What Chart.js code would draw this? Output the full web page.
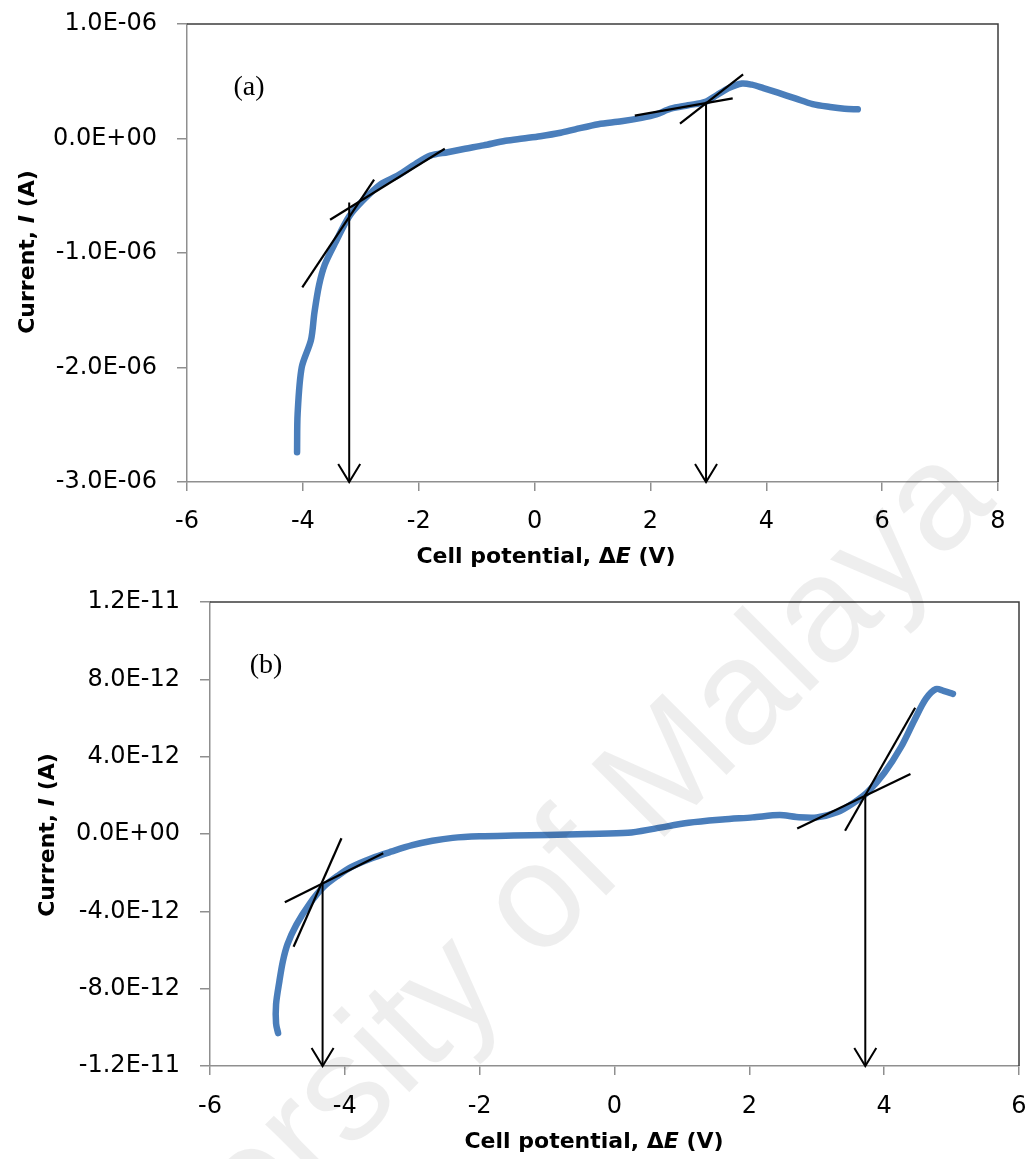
<!DOCTYPE html>
<html>
<head>
<meta charset="utf-8">
<title>Cell potential vs current</title>
<script src="https://cdn.jsdelivr.net/npm/chart.js@4.4.1/dist/chart.umd.min.js"></script>
<style>
  body { margin: 0; background: #fff; }
  #wrap { position: relative; width: 1027px; height: 1159px; }
  #chartA { position: absolute; left: 0; top: 0; }
  #chartB { position: absolute; left: 0; top: 580px; }
  #mark { position: absolute; left: 0; top: 0; pointer-events: none; }
</style>
</head>
<body>
<div id="wrap">
  <canvas id="chartA" width="1027" height="580"></canvas>
  <canvas id="chartB" width="1027" height="579"></canvas>
  <canvas id="mark" width="1027" height="1159"></canvas>
</div>
<script>
// (a) current (A) against cell potential (V)
const potentialA = [-4.10, -4.09, -4.02, -3.86, -3.80, -3.72, -3.62, -3.45, -3.20, -2.96, -2.66,
  -2.35, -2.05, -1.80, -1.50, -1.20, -0.88, -0.50, -0.20, 0.10, 0.45, 0.70, 1.10, 1.50, 1.85,
  2.10, 2.35, 2.65, 2.95, 3.15, 3.35, 3.58, 3.75, 3.95, 4.20, 4.50, 4.80, 5.10, 5.35, 5.58];
const currentA = [-2.74e-6, -2.40e-6, -2.00e-6, -1.76e-6, -1.52e-6, -1.28e-6, -1.10e-6, -0.92e-6,
  -0.68e-6, -0.54e-6, -0.40e-6, -0.32e-6, -0.22e-6, -0.15e-6, -0.12e-6, -0.09e-6, -0.06e-6,
  -0.02e-6, 0.00, 0.02e-6, 0.05e-6, 0.08e-6, 0.125e-6, 0.15e-6, 0.18e-6, 0.21e-6, 0.26e-6,
  0.29e-6, 0.32e-6, 0.38e-6, 0.44e-6, 0.48e-6, 0.47e-6, 0.44e-6, 0.40e-6, 0.35e-6, 0.30e-6,
  0.275e-6, 0.26e-6, 0.255e-6];
// tangent segments [x0, y0, x1, y1]
const tangentsA = [
  [-4.01, -1.30e-6, -2.77, -0.36e-6],
  [-3.53, -0.71e-6, -1.55, -0.09e-6],
  [1.73, 0.20e-6, 3.42, 0.35e-6],
  [2.51, 0.13e-6, 3.60, 0.56e-6]
];
const arrowXA = [-3.20, 2.96];
const arrowFromA = [-0.56e-6, 0.32e-6];
const xTicksA = [-6, -4, -2, 0, 2, 4, 6, 8];
const yTicksA = [-3e-6, -2e-6, -1e-6, 0, 1e-6];

// (b)
const potentialB = [-4.99, -5.02, -5.02, -4.97, -4.92, -4.85, -4.72, -4.52, -4.32, -4.10, -3.90,
  -3.60, -3.30, -3.00, -2.70, -2.40, -2.00, -1.50, -1.00, -0.40, 0.20, 0.60, 1.10, 1.60, 2.05,
  2.45, 2.70, 3.00, 3.30, 3.55, 3.75, 4.00, 4.25, 4.45, 4.62, 4.77, 4.88, 5.02];
const currentB = [-10.3e-12, -9.8e-12, -8.8e-12, -7.6e-12, -6.6e-12, -5.7e-12, -4.7e-12, -3.6e-12,
  -2.75e-12, -2.15e-12, -1.7e-12, -1.25e-12, -0.9e-12, -0.58e-12, -0.35e-12, -0.2e-12,
  -0.12e-12, -0.08e-12, -0.05e-12, 0.0, 0.06e-12, 0.28e-12, 0.58e-12, 0.75e-12, 0.86e-12,
  0.98e-12, 0.88e-12, 0.86e-12, 1.12e-12, 1.62e-12, 2.15e-12, 3.15e-12, 4.5e-12, 5.9e-12,
  7.0e-12, 7.5e-12, 7.4e-12, 7.25e-12];
const tangentsB = [
  [-4.89, -3.53e-12, -3.43, -1.0e-12],
  [-4.76, -5.83e-12, -4.05, -0.22e-12],
  [2.71, 0.29e-12, 4.39, 3.1e-12],
  [3.42, 0.17e-12, 4.46, 6.53e-12]
];
const arrowXB = [-4.33, 3.72];
const arrowFromB = [-2.52e-12, 2.05e-12];
const xTicksB = [-6, -4, -2, 0, 2, 4, 6];
const yTicksB = [-1.2e-11, -8e-12, -4e-12, 0, 4e-12, 8e-12, 1.2e-11];

const titleFont = 'bold 22px "DejaVu Sans"';
const titleItalic = 'italic bold 22px "DejaVu Sans"';
const xTitleParts = [
  { text: 'Cell potential, Δ', font: titleFont },
  { text: 'E', font: titleItalic },
  { text: ' (V)', font: titleFont }
];
const yTitleParts = [
  { text: 'Current, ', font: titleFont },
  { text: 'I', font: titleItalic },
  { text: ' (A)', font: titleFont }
];

// Excel style exponent labels, e.g. -1.0E-06
function sci(v) {
  const [m, e] = v.toExponential(1).split('e');
  const sign = e[0] === '-' ? '-' : '+';
  return m + 'E' + sign + e.replace(/^[+-]/, '').padStart(2, '0');
}

function drawRich(ctx, parts, cx, cy, rot) {
  ctx.save();
  ctx.translate(cx, cy);
  ctx.rotate(rot);
  let total = 0;
  parts.forEach(p => { ctx.font = p.font; total += ctx.measureText(p.text).width; });
  let x = -total / 2;
  ctx.fillStyle = '#000';
  ctx.textAlign = 'left';
  ctx.textBaseline = 'middle';
  parts.forEach(p => {
    ctx.font = p.font;
    ctx.fillText(p.text, x, 0);
    x += ctx.measureText(p.text).width;
  });
  ctx.restore();
}

// frame, arrows, panel tag and axis titles
const decor = {
  id: 'decor',
  afterDraw(chart, args, opts) {
    const { ctx, chartArea: a, scales: { x, y } } = chart;
    ctx.save();
    ctx.strokeStyle = '#3c3c3c';
    ctx.lineWidth = 1.5;
    ctx.beginPath();
    ctx.moveTo(a.left, a.top);
    ctx.lineTo(a.right, a.top);
    ctx.lineTo(a.right, a.bottom);
    ctx.stroke();

    ctx.strokeStyle = '#000';
    ctx.lineWidth = 2;
    opts.arrowX.forEach((xv, i) => {
      const px = x.getPixelForValue(xv);
      const top = y.getPixelForValue(opts.arrowFrom[i]);
      const tip = a.bottom;
      ctx.beginPath();
      ctx.moveTo(px, top);
      ctx.lineTo(px, tip);
      ctx.stroke();
      ctx.beginPath();
      ctx.moveTo(px - 11, tip - 18);
      ctx.lineTo(px, tip);
      ctx.lineTo(px + 11, tip - 18);
      ctx.stroke();
    });

    ctx.fillStyle = '#000';
    ctx.font = '28px "Liberation Serif"';
    ctx.textAlign = 'center';
    ctx.textBaseline = 'middle';
    ctx.fillText(opts.tag, opts.tagPos[0], opts.tagPos[1]);

    drawRich(ctx, xTitleParts, opts.xTitlePos[0], opts.xTitlePos[1], 0);
    drawRich(ctx, yTitleParts, opts.yTitlePos[0], opts.yTitlePos[1], -Math.PI / 2);
    ctx.restore();
  }
};

// fixed axis boxes; label overhang is covered by layout padding instead
function noOverhang(s) {
  s.paddingTop = 0;
  s.paddingBottom = 0;
  s.paddingLeft = 0;
  s.paddingRight = 0;
}

function makeChart(id, xs, ys, tangents, xTicks, yTicks, box, decorOpts) {
  const sets = tangents.map(s => ({
    data: [{ x: s[0], y: s[1] }, { x: s[2], y: s[3] }],
    borderColor: '#000',
    borderWidth: 2.2,
    order: 1
  }));
  sets.push({
    data: xs.map((v, i) => ({ x: v, y: ys[i] })),
    borderColor: '#4a7ebb',
    borderWidth: 6.5,
    borderCapStyle: 'round',
    borderJoinStyle: 'round',
    tension: 0.3,
    order: 2
  });
  const axisGrey = '#8f8f8f';
  return new Chart(document.getElementById(id), {
    type: 'scatter',
    data: { datasets: sets },
    options: {
      responsive: false,
      animation: false,
      events: [],
      showLine: true,
      elements: { point: { radius: 0 } },
      layout: { padding: { top: box.top, right: box.right, left: 0, bottom: 0 } },
      plugins: { legend: { display: false }, tooltip: { enabled: false }, decor: decorOpts },
      scales: {
        x: {
          type: 'linear',
          min: xTicks[0],
          max: xTicks[xTicks.length - 1],
          afterBuildTicks: s => { s.ticks = xTicks.map(v => ({ value: v })); },
          afterFit: s => { s.height = box.xHeight; noOverhang(s); },
          border: { color: axisGrey, width: 1.5 },
          grid: { drawOnChartArea: false, tickLength: 9, color: axisGrey, lineWidth: 1.5 },
          ticks: { color: '#000', font: { family: 'DejaVu Sans', size: 24 }, padding: box.xPad, maxRotation: 0 }
        },
        y: {
          type: 'linear',
          min: yTicks[0],
          max: yTicks[yTicks.length - 1],
          afterBuildTicks: s => { s.ticks = yTicks.map(v => ({ value: v })); },
          afterFit: s => { s.width = box.yWidth; noOverhang(s); },
          border: { color: axisGrey, width: 1.5 },
          grid: { drawOnChartArea: false, tickLength: 10, color: axisGrey, lineWidth: 1.5 },
          ticks: { color: '#000', font: { family: 'DejaVu Sans', size: 24 }, padding: 20, callback: v => sci(v) }
        }
      }
    },
    plugins: [decor]
  });
}

makeChart('chartA', potentialA, currentA, tangentsA, xTicksA, yTicksA,
  { top: 24, right: 29, yWidth: 187, xHeight: 98, xPad: 16 },
  { arrowX: arrowXA, arrowFrom: arrowFromA, tag: '(a)', tagPos: [249, 88],
    xTitlePos: [546, 557], yTitlePos: [28, 252] });

makeChart('chartB', potentialB, currentB, tangentsB, xTicksB, yTicksB,
  { top: 22, right: 8, yWidth: 210, xHeight: 93, xPad: 17 },
  { arrowX: arrowXB, arrowFrom: arrowFromB, tag: '(b)', tagPos: [266, 86],
    xTitlePos: [594, 562], yTitlePos: [48, 255] });

// faint diagonal watermark across both panels
const mk = document.getElementById('mark').getContext('2d');
mk.save();
mk.translate(491, 952);
mk.rotate(-Math.PI / 4);
mk.font = '150px "Liberation Sans"';
mk.fillStyle = 'rgba(0, 0, 0, 0.065)';
mk.textAlign = 'center';
mk.textBaseline = 'middle';
mk.fillText('University of Malaya', 0, 0);
mk.restore();
</script>
</body>
</html>
